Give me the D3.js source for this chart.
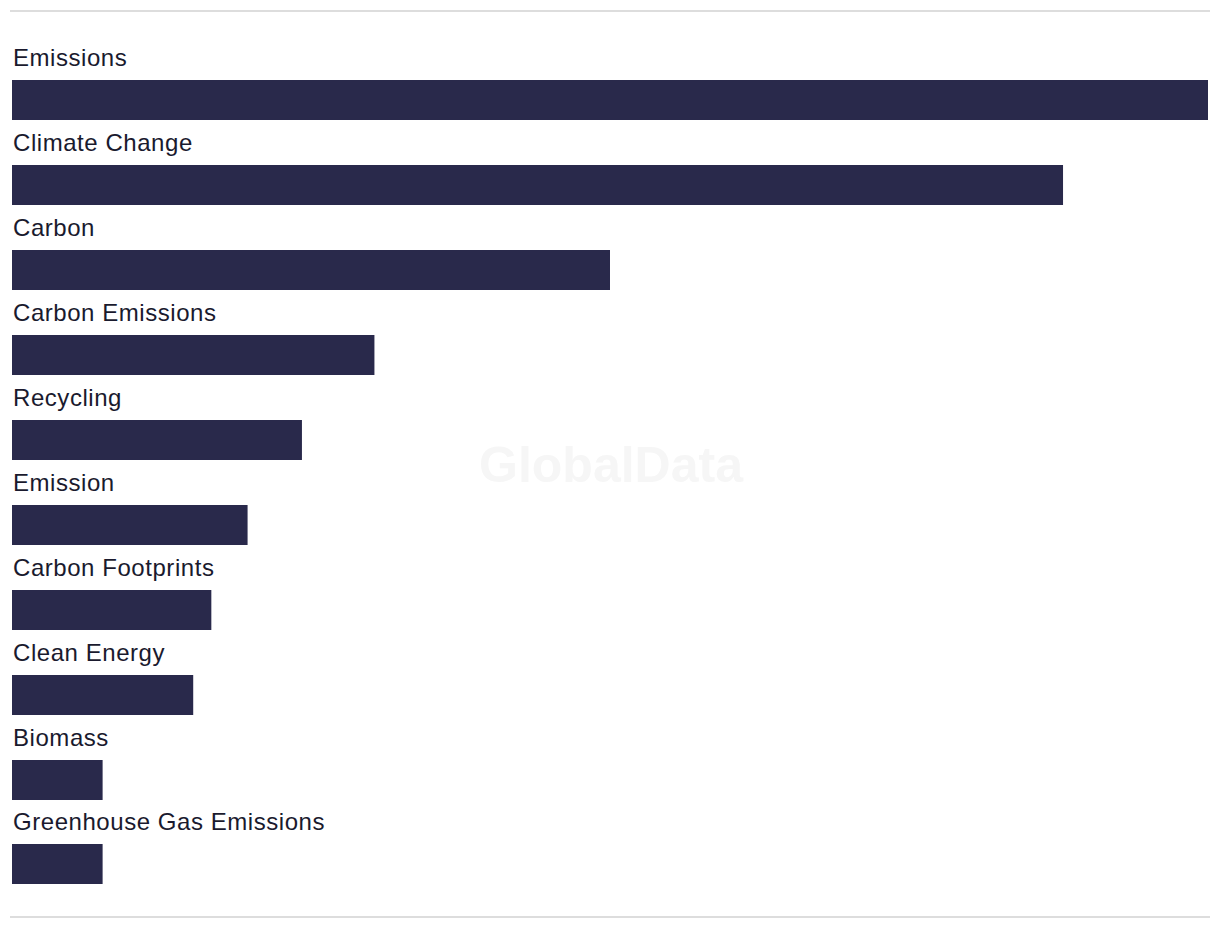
<!DOCTYPE html>
<html><head><meta charset="utf-8">
<script src="https://cdn.jsdelivr.net/npm/d3@7"></script>
<style>body{margin:0;background:#fff;}svg{display:block;}</style>
</head><body>
<script>
const categories = ["Emissions","Climate Change","Carbon","Carbon Emissions","Recycling","Emission","Carbon Footprints","Clean Energy","Biomass","Greenhouse Gas Emissions"];
const values = [66,58,33,20,16,13,11,10,5,5];

const W = 1220, H = 928;
const svg = d3.select("body").append("svg").attr("width", W).attr("height", H);

svg.append("line").attr("x1",10).attr("x2",1210).attr("y1",11).attr("y2",11).attr("stroke","#dddddd").attr("stroke-width",2);
svg.append("line").attr("x1",10).attr("x2",1210).attr("y1",917).attr("y2",917).attr("stroke","#dddddd").attr("stroke-width",2);

svg.append("text").attr("x",611).attr("y",482).attr("text-anchor","middle")
  .attr("font-family","Liberation Sans, Arial, sans-serif").attr("font-weight","bold").attr("font-size",50)
  .attr("fill","#f6f6f6").text("GlobalData");

const x = d3.scaleLinear().domain([0, d3.max(values)]).range([12, 1208]);
const y = d3.scaleBand().domain(categories).range([38.3, 38.3 + 84.9*categories.length]).padding(0);

const data = categories.map((c,i)=>({c, v: values[i]}));
const g = svg.append("g");
g.selectAll("rect").data(data).join("rect")
  .attr("x", x(0)).attr("y", d => Math.round(y(d.c) + 42))
  .attr("width", d => x(d.v) - x(0)).attr("height", 40)
  .attr("fill", "#29294b");
g.selectAll("text.lbl").data(data).join("text").attr("class","lbl")
  .attr("x", 13).attr("y", d => y(d.c) + 28)
  .attr("font-family","Liberation Sans, Arial, sans-serif").attr("font-size",24)
  .attr("letter-spacing","0.55px")
  .attr("fill","#1a1a2e").text(d => d.c);
</script>
</body></html>
